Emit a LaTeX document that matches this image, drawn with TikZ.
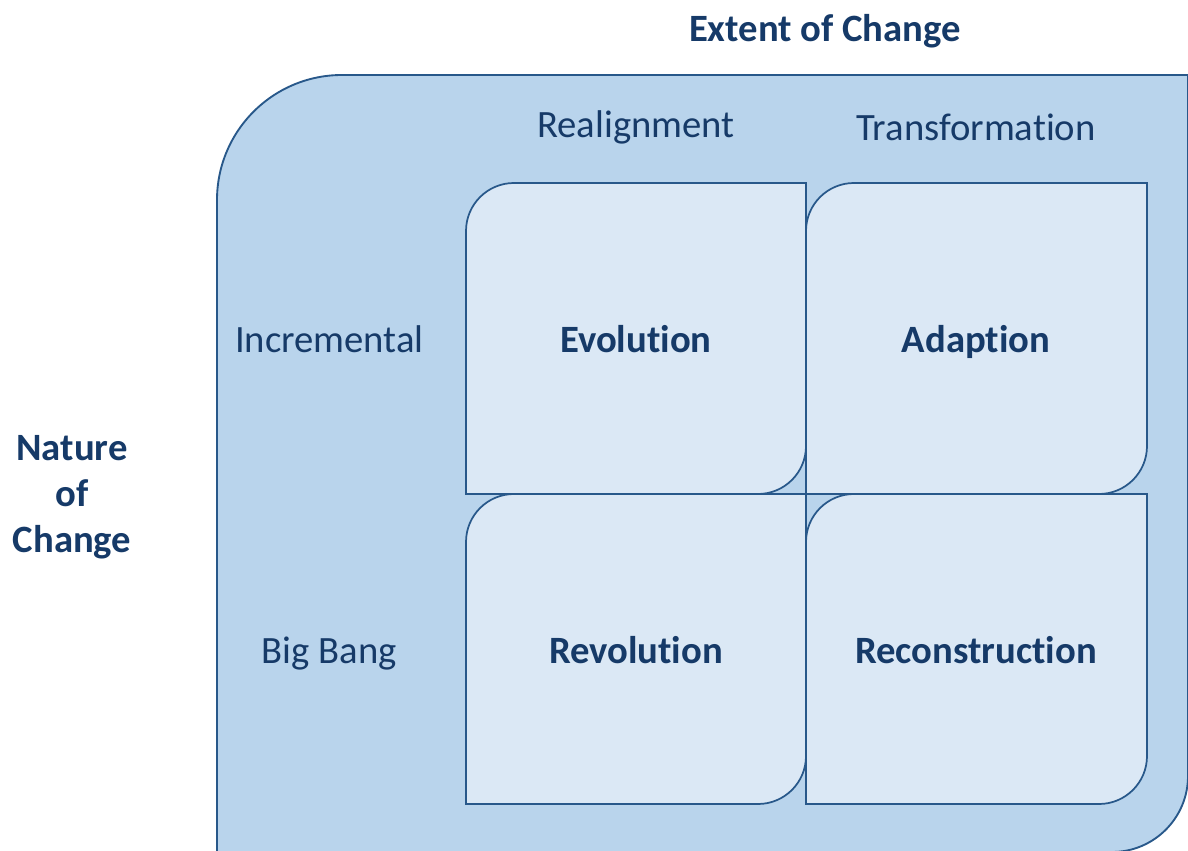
\documentclass[tikz,border=0pt]{standalone}
\usepackage{fontspec}
\setmainfont{Carlito}[Ligatures=NoCommon]
\usepackage{tikz}
\usetikzlibrary{positioning}
\definecolor{navy}{RGB}{22,58,104}
\definecolor{fieldblue}{RGB}{185,212,236}
\definecolor{cellblue}{RGB}{219,232,245}
\definecolor{edgeblue}{RGB}{40,88,138}
\tikzset{
  field/.style={draw=edgeblue,line width=1.4pt,fill=fieldblue},
  cell/.style={draw=edgeblue,line width=1.3pt,fill=cellblue},
  lbl/.style={on grid,inner sep=0pt,text=navy,text height=18.6pt,text depth=0pt,
    font=\fontsize{29}{34.5}\selectfont},
  quad/.style={lbl,font=\fontsize{29}{34.5}\selectfont\bfseries}
}

\begin{document}
\begin{tikzpicture}[x=0.75pt,y=0.75pt]
    \useasboundingbox (0,0) rectangle (1188,850);
    % background field
    \draw[field] (217,-2) -- (217,650) arc[start angle=180,end angle=90,radius=125]
      -- (1188,775) -- (1188,74) arc[start angle=0,end angle=-90,radius=76] -- cycle;
    % the four cells
    \draw[cell] (466,356) -- (466,619) arc[start angle=180,end angle=90,radius=48]
      -- (806,667) -- (806,404) arc[start angle=0,end angle=-90,radius=48] -- cycle;
    \draw[cell] (806,356) -- (806,619) arc[start angle=180,end angle=90,radius=48]
      -- (1147,667) -- (1147,404) arc[start angle=0,end angle=-90,radius=48] -- cycle;
    \draw[cell] (466,46) -- (466,308) arc[start angle=180,end angle=90,radius=48]
      -- (806,356) -- (806,94) arc[start angle=0,end angle=-90,radius=48] -- cycle;
    \draw[cell] (806,46) -- (806,308) arc[start angle=180,end angle=90,radius=48]
      -- (1147,356) -- (1147,94) arc[start angle=0,end angle=-90,radius=48] -- cycle;
    \node[quad] (Evol) at (636,510) {Evolution};
    \node[quad,right=255pt of Evol] (Adapt) {Adaption};
    \node[quad,below=233pt of Evol] (Revol) {Revolution};
    \node[quad,below=233pt of Adapt] (Recon) {Reconstruction};
    \node[lbl,left=230pt of Evol] (Incr) {Incremental};
    \node[lbl,left=230pt of Revol] (Bang) {Big Bang};
    \node[lbl,above=161pt of Evol] (Realign) {Realignment};
    \node[lbl,above=159pt of Adapt] (Transf) {Transformation};
    \node[quad] (Extent) at (825,821) {Extent of Change};
    \node[align=center,inner sep=0pt,text=navy,font=\fontsize{29}{34.5}\selectfont\bfseries]
      (Nature) at (72,353) {Nature\\of\\Change};
  \end{tikzpicture}
\end{document}
